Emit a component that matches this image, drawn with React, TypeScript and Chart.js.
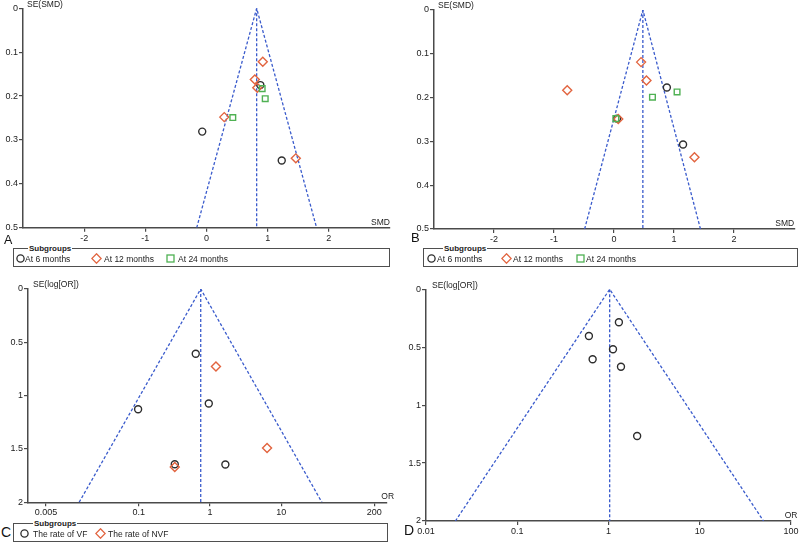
import React, { useEffect, useRef } from "react";
import { Chart, registerables } from "chart.js";

Chart.register(...registerables);

const FONT = '"Liberation Sans", Arial, Helvetica, sans-serif';
const BLUE = "#3a5bcc";
const DARK = "#2e2e2e";
const RED = "#e2643f";
const GREEN = "#4fb153";
const AXIS = "#4a4a4a";
const TEXT = "#222222";

// ---------- Panel A (SMD) ----------
const aXTicks = [-2, -1, 0, 1, 2];
const aYTicks = [0, 0.1, 0.2, 0.3, 0.4, 0.5];
const a6mSMD = [0.88, -0.07, 1.23];
const a6mSE = [0.175, 0.281, 0.347];
const a12mSMD = [0.92, 0.79, 0.83, 0.29, 1.46];
const a12mSE = [0.122, 0.162, 0.181, 0.248, 0.342];
const a24mSMD = [0.91, 0.96, 0.43];
const a24mSE = [0.183, 0.206, 0.249];
const aFunnel = [-0.16, 0.82, 1.8]; // left at SE max, apex, right at SE max

// ---------- Panel B (SMD) ----------
const bXTicks = [-2, -1, 0, 1, 2];
const bYTicks = [0, 0.1, 0.2, 0.3, 0.4, 0.5];
const b6mSMD = [0.88, 0.05, 1.15];
const b6mSE = [0.177, 0.248, 0.307];
const b12mSMD = [0.45, 0.54, -0.78, 0.07, 1.34];
const b12mSE = [0.119, 0.161, 0.183, 0.249, 0.336];
const b24mSMD = [1.05, 0.64, 0.03];
const b24mSE = [0.187, 0.199, 0.248];
const bFunnel = [-0.49, 0.48, 1.44];

// ---------- Panel C (OR) ----------
const cXTicks = [0.005, 0.1, 1, 10, 200];
const cYTicks = [0, 0.5, 1, 1.5, 2];
const cVfOR = [0.63, 0.96, 0.098, 0.32, 1.64];
const cVfSE = [0.607, 1.074, 1.127, 1.643, 1.646];
const cNvfOR = [1.21, 6.3, 0.32];
const cNvfSE = [0.726, 1.49, 1.67];
const cFunnel = [0.0146, 0.74, 37];

// ---------- Panel D (OR) ----------
const dXTicks = [0.01, 0.1, 1, 10, 100];
const dYTicks = [0, 0.5, 1, 1.5, 2];
const dOR = [1.3, 0.61, 1.12, 0.67, 1.37, 2.06];
const dSE = [0.285, 0.403, 0.518, 0.604, 0.668, 1.266];
const dFunnel = [0.021, 1.03, 50];

type Series = { xs: number[]; ys: number[]; kind: "circle" | "diamond" | "square" };

type PanelProps = {
  left: number;
  top: number;
  width: number;
  height: number;
  padTop: number;
  padRight: number;
  yW: number;
  xH: number;
  log: boolean;
  xMin: number;
  xMax: number;
  seMax: number;
  xTicks: number[];
  yTicks: number[];
  funnel: number[];
  series: Series[];
  yTitle: string;
  xTitle: string;
  yTitleDx: number;
  xTitleAlign: "right" | "center";
  xTitleDx: number;
};

function pointDataset(s: Series) {
  const data = s.xs.map((x, i) => ({ x, y: s.ys[i] }));
  const base: any = {
    data,
    showLine: false,
    backgroundColor: "rgba(255,255,255,0)",
    borderWidth: 1.4,
  };
  if (s.kind === "circle") {
    return { ...base, pointStyle: "circle", pointRadius: 3.5, borderColor: DARK };
  }
  if (s.kind === "diamond") {
    return { ...base, pointStyle: "rectRot", pointRadius: 4.5, borderColor: RED };
  }
  return { ...base, pointStyle: "rect", pointRadius: 4.0, borderColor: GREEN };
}

function FunnelPanel(p: PanelProps) {
  const ref = useRef<HTMLCanvasElement>(null);
  useEffect(() => {
    const canvas = ref.current;
    if (!canvas) return;
    const lineBase = {
      showLine: true,
      borderColor: BLUE,
      borderWidth: 1.3,
      borderDash: [3, 2],
      pointRadius: 0,
      fill: false,
      tension: 0,
    };
    const datasets: any[] = [
      ...p.series.map(pointDataset),
      {
        ...lineBase,
        data: [
          { x: p.funnel[0], y: p.seMax },
          { x: p.funnel[1], y: 0 },
          { x: p.funnel[2], y: p.seMax },
        ],
      },
      {
        ...lineBase,
        data: [
          { x: p.funnel[1], y: 0 },
          { x: p.funnel[1], y: p.seMax },
        ],
      },
    ];
    const titles = {
      id: "axisTitles",
      afterDraw(chart: any) {
        const { ctx, chartArea } = chart;
        ctx.save();
        ctx.fillStyle = TEXT;
        ctx.font = `8.5px ${FONT}`;
        ctx.textAlign = "left";
        ctx.textBaseline = "middle";
        ctx.fillText(p.yTitle, chartArea.left + p.yTitleDx, chartArea.top - 4);
        ctx.font = `8.5px ${FONT}`;
        ctx.textAlign = p.xTitleAlign;
        ctx.textBaseline = "alphabetic";
        ctx.fillText(p.xTitle, chartArea.right + p.xTitleDx, chartArea.bottom - 3);
        ctx.restore();
      },
    };
    const tickFont = { family: FONT, size: 9 };
    const grid = {
      display: true,
      drawOnChartArea: false,
      drawTicks: true,
      tickLength: 4,
      color: AXIS,
      lineWidth: 1.2,
    };
    const border = { display: true, color: AXIS, width: 1.5 };
    const chart = new Chart(canvas, {
      type: "scatter",
      data: { datasets },
      options: {
        animation: false,
        responsive: false,
        maintainAspectRatio: false,
        devicePixelRatio: 1,
        events: [],
        layout: { padding: { top: p.padTop, right: p.padRight, left: 0, bottom: 0 } },
        plugins: {
          legend: { display: false },
          tooltip: { enabled: false },
        },
        scales: {
          x: {
            type: p.log ? "logarithmic" : "linear",
            min: p.xMin,
            max: p.xMax,
            bounds: "data",
            afterBuildTicks: (s: any) => {
              s.ticks = p.xTicks.map((v) => ({ value: v }));
            },
            afterFit: (s: any) => {
              s.height = p.xH;
            },
            ticks: {
              callback: (v: any) => String(v),
              font: tickFont,
              color: TEXT,
              padding: 1,
              maxRotation: 0,
              autoSkip: false,
            },
            grid,
            border,
          },
          y: {
            type: "linear",
            reverse: true,
            min: 0,
            max: p.seMax,
            afterBuildTicks: (s: any) => {
              s.ticks = p.yTicks.map((v) => ({ value: v }));
            },
            afterFit: (s: any) => {
              s.width = p.yW;
            },
            ticks: {
              callback: (v: any) => String(v),
              font: tickFont,
              color: TEXT,
              padding: 1,
              autoSkip: false,
            },
            grid,
            border,
          },
        },
      } as any,
      plugins: [titles],
    });
    return () => chart.destroy();
  }, []);
  return (
    <canvas
      ref={ref}
      width={p.width}
      height={p.height}
      style={{ position: "absolute", left: p.left, top: p.top, width: p.width, height: p.height }}
    />
  );
}

function Marker({ kind }: { kind: "circle" | "diamond" | "square" }) {
  return (
    <svg width={11} height={11} style={{ display: "block" }}>
      {kind === "circle" && <circle cx={5.5} cy={5.5} r={3.6} fill="none" stroke={DARK} strokeWidth={1.3} />}
      {kind === "diamond" && (
        <polygon points="5.5,0.8 10.2,5.5 5.5,10.2 0.8,5.5" fill="none" stroke={RED} strokeWidth={1.3} />
      )}
      {kind === "square" && <rect x={2} y={2} width={7} height={7} fill="none" stroke={GREEN} strokeWidth={1.3} />}
    </svg>
  );
}

type LegendItem = { kind: "circle" | "diamond" | "square"; label: string; mx: number; tx: number };

function LegendBox({
  left,
  top,
  width,
  height,
  titleX,
  items,
}: {
  left: number;
  top: number;
  width: number;
  height: number;
  titleX: number;
  items: LegendItem[];
}) {
  const cy = height / 2;
  return (
    <div
      style={{
        position: "absolute",
        left,
        top,
        width,
        height,
        boxSizing: "border-box",
        border: "1px solid #4f4f4f",
      }}
    >
      <span
        style={{
          position: "absolute",
          left: titleX,
          top: -6,
          background: "#fff",
          padding: "0 1px",
          font: `bold 8px ${FONT}`,
          lineHeight: "11px",
          color: TEXT,
          whiteSpace: "nowrap",
        }}
      >
        Subgroups
      </span>
      {items.map((it, i) => (
        <React.Fragment key={i}>
          <div style={{ position: "absolute", left: it.mx - 5.5, top: cy - 5.5 }}>
            <Marker kind={it.kind} />
          </div>
          <div
            style={{
              position: "absolute",
              left: it.tx,
              top: cy - 5,
              font: `8.5px ${FONT}`,
              lineHeight: "10px",
              color: TEXT,
              whiteSpace: "nowrap",
            }}
          >
            {it.label}
          </div>
        </React.Fragment>
      ))}
    </div>
  );
}

function PanelLabel({ text, left, top, size }: { text: string; left: number; top: number; size: number }) {
  return (
    <div
      style={{
        position: "absolute",
        left,
        top,
        font: `${size}px ${FONT}`,
        lineHeight: `${size}px`,
        color: "#111",
      }}
    >
      {text}
    </div>
  );
}

export default function App() {
  return (
    <div
      style={{
        position: "fixed",
        left: 0,
        top: 0,
        width: 800,
        height: 543,
        background: "#fff",
        overflow: "hidden",
      }}
    >
      <FunnelPanel
        left={0}
        top={0}
        width={400}
        height={245}
        padTop={8.3}
        padRight={10}
        yW={23}
        xH={17.3}
        log={false}
        xMin={-3}
        xMax={3}
        seMax={0.5}
        xTicks={aXTicks}
        yTicks={aYTicks}
        funnel={aFunnel}
        series={[
          { xs: a24mSMD, ys: a24mSE, kind: "square" },
          { xs: a12mSMD, ys: a12mSE, kind: "diamond" },
          { xs: a6mSMD, ys: a6mSE, kind: "circle" },
        ]}
        yTitle="SE(SMD)"
        xTitle="SMD"
        yTitleDx={4}
        xTitleAlign="right"
        xTitleDx={0}
      />
      <FunnelPanel
        left={400}
        top={0}
        width={400}
        height={245}
        padTop={10}
        padRight={2}
        yW={34}
        xH={16}
        log={false}
        xMin={-3}
        xMax={3}
        seMax={0.5}
        xTicks={bXTicks}
        yTicks={bYTicks}
        funnel={bFunnel}
        series={[
          { xs: b24mSMD, ys: b24mSE, kind: "square" },
          { xs: b12mSMD, ys: b12mSE, kind: "diamond" },
          { xs: b6mSMD, ys: b6mSE, kind: "circle" },
        ]}
        yTitle="SE(SMD)"
        xTitle="SMD"
        yTitleDx={4}
        xTitleAlign="right"
        xTitleDx={0}
      />
      <FunnelPanel
        left={0}
        top={270}
        width={400}
        height={250}
        padTop={19}
        padRight={13.3}
        yW={28}
        xH={17.7}
        log={true}
        xMin={0.0028}
        xMax={300}
        seMax={2}
        xTicks={cXTicks}
        yTicks={cYTicks}
        funnel={cFunnel}
        series={[
          { xs: cNvfOR, ys: cNvfSE, kind: "diamond" },
          { xs: cVfOR, ys: cVfSE, kind: "circle" },
        ]}
        yTitle="SE(log[OR])"
        xTitle="OR"
        yTitleDx={5}
        xTitleAlign="center"
        xTitleDx={1}
      />
      <FunnelPanel
        left={400}
        top={270}
        width={400}
        height={273}
        padTop={19.3}
        padRight={9}
        yW={26}
        xH={22}
        log={true}
        xMin={0.01}
        xMax={100}
        seMax={2}
        xTicks={dXTicks}
        yTicks={dYTicks}
        funnel={dFunnel}
        series={[{ xs: dOR, ys: dSE, kind: "circle" }]}
        yTitle="SE(log[OR])"
        xTitle="OR"
        yTitleDx={6}
        xTitleAlign="center"
        xTitleDx={0}
      />

      <PanelLabel text="A" left={4} top={234} size={12.5} />
      <PanelLabel text="B" left={411} top={231} size={13} />
      <PanelLabel text="C" left={1} top={525} size={14} />
      <PanelLabel text="D" left={404} top={523} size={14} />

      <LegendBox
        left={13}
        top={248}
        width={377}
        height={19}
        titleX={14}
        items={[
          { kind: "circle", label: "At 6 months", mx: 6, tx: 11 },
          { kind: "diamond", label: "At 12 months", mx: 82, tx: 90 },
          { kind: "square", label: "At 24 months", mx: 156, tx: 164 },
        ]}
      />
      <LegendBox
        left={423}
        top={248}
        width={375}
        height={19}
        titleX={19}
        items={[
          { kind: "circle", label: "At 6 months", mx: 7, tx: 13 },
          { kind: "diamond", label: "At 12 months", mx: 82, tx: 89 },
          { kind: "square", label: "At 24 months", mx: 156, tx: 162 },
        ]}
      />
      <LegendBox
        left={13}
        top={523}
        width={375}
        height={19}
        titleX={19}
        items={[
          { kind: "circle", label: "The rate of VF", mx: 10, tx: 19 },
          { kind: "diamond", label: "The rate of NVF", mx: 86, tx: 94 },
        ]}
      />
    </div>
  );
}
